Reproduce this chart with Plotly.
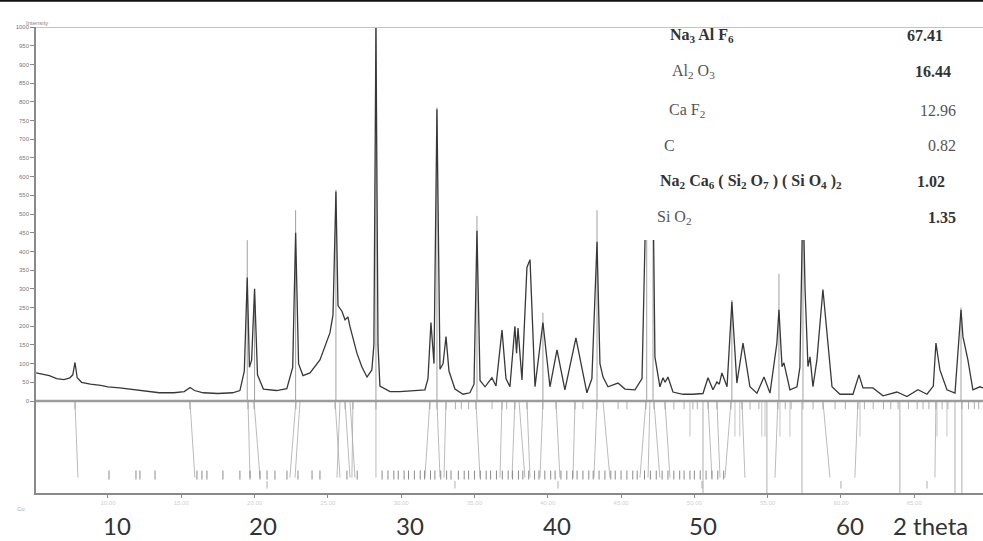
import plotly.graph_objects as go

# ---------------- data ----------------
two_theta = [5.1, 5.6, 6.0, 6.5, 7.0, 7.4, 7.6, 7.75, 7.9, 8.2, 8.8, 9.5, 10.0, 10.8, 11.5, 12.5, 13.5,
             14.5, 15.2, 15.6, 15.9, 16.5, 17.5, 18.5, 19.0, 19.3, 19.5, 19.65, 19.8, 20.0, 20.2, 20.6,
             21.5, 22.2, 22.6, 22.8, 23.0, 23.3, 23.78, 24.46, 25.14, 25.35, 25.55, 25.69, 25.96, 26.17,
             26.37, 26.5, 26.98, 27.33, 27.67, 28.0, 28.14, 28.28, 28.42, 28.55, 29.24, 29.92, 30.8,
             31.62, 31.83, 32.03, 32.24, 32.44, 32.65, 32.86, 33.06, 33.26, 33.67, 34.22, 34.69, 34.97,
             35.17, 35.38, 35.72, 36.19, 36.47, 36.88, 37.15, 37.42, 37.76, 37.87, 37.97, 38.24, 38.58,
             38.79, 39.13, 39.67, 40.15, 40.63, 41.17, 41.92, 42.67, 43.01, 43.36, 43.56, 43.77, 44.11,
             44.79, 45.27, 45.95, 46.43, 46.75, 46.95, 47.18, 47.31, 47.65, 47.86, 48.0, 48.2, 48.54,
             49.22, 49.9, 50.59, 50.93, 51.27, 51.54, 51.7, 51.88, 52.23, 52.56, 52.9, 53.32, 53.79,
             54.27, 54.75, 55.16, 55.63, 55.77, 55.98, 56.11, 56.52, 57.0, 57.2, 57.41, 57.55, 57.75,
             57.89, 58.09, 58.36, 58.77, 59.05, 59.39, 59.93, 60.82, 61.23, 61.5, 62.18, 62.87, 63.82,
             64.5, 65.25, 65.87, 66.3, 66.48, 66.75, 67.23, 67.78, 68.19, 68.32, 68.66, 69.0, 69.48, 69.69]
intensity = [75, 70, 68, 60, 57, 62, 70, 103, 62, 50, 45, 42, 38, 35, 32, 28, 22,
             22, 25, 36, 28, 22, 20, 22, 28, 80, 330, 90, 110, 300, 70, 32,
             28, 33, 90, 450, 100, 68, 75, 110, 182, 230, 560, 255, 240, 217,
             225, 200, 128, 90, 64, 83, 150, 1000, 150, 40, 25, 25, 27,
             30, 60, 210, 100, 780, 85, 100, 172, 80, 32, 18, 22, 45,
             455, 55, 38, 62, 40, 190, 60, 38, 200, 128, 195, 56, 357,
             378, 38, 210, 38, 137, 30, 169, 22, 60, 426, 100, 64, 38,
             48, 32, 30, 60, 640, 480, 580, 118, 38, 62, 50, 64, 24,
             18, 18, 20, 62, 30, 51, 45, 75, 38, 265, 48, 155, 38,
             21, 64, 21, 155, 244, 92, 102, 30, 38, 90, 560, 300, 92,
             118, 38, 110, 298, 182, 38, 18, 18, 70, 35, 35, 14, 24,
             12, 30, 18, 40, 155, 83, 30, 21, 244, 172, 110, 30, 38, 35]

# reference lines drawn above the pattern (position, height)
ref_pos = [19.5, 20.0, 22.8, 25.55, 28.28, 32.44, 35.17, 39.67, 43.36, 46.75, 47.18, 52.56, 55.77, 57.41, 68.19]
ref_height = [430, 300, 510, 565, 1000, 785, 495, 236, 510, 700, 700, 270, 340, 700, 250]

# stick pattern below zero: slanted connectors (top position -> bottom position)
conn_top = [7.75, 15.59, 19.55, 19.96, 22.82, 23.1, 25.49, 25.83, 26.17, 26.51, 26.71, 28.28, 31.96,
            32.44, 33.06, 35.1, 36.88, 37.76, 38.04, 38.58, 39.67, 40.56, 41.86, 43.36, 43.77, 46.7,
            46.97, 47.24, 47.99, 50.93, 51.54, 52.5, 53.25, 55.7, 58.77, 61.16, 66.48]
conn_bot = [7.95, 15.93, 19.69, 20.37, 22.41, 22.76, 25.83, 25.62, 26.51, 26.85, 26.64, 28.28, 31.62,
            32.65, 32.92, 35.38, 36.74, 37.56, 38.44, 38.79, 39.47, 40.83, 41.72, 43.15, 44.24, 46.29,
            46.84, 47.65, 48.34, 51.2, 51.75, 52.09, 53.45, 55.5, 59.25, 60.95, 66.41]
long_pos = [50.59, 54.95, 57.34, 64.02, 67.78, 68.25]
row_pos = [10.07, 11.91, 12.18, 13.21, 16.07, 16.41, 16.75, 17.84, 19.0, 19.69, 20.37, 20.85, 21.39,
           22.21, 22.96, 23.92, 24.46, 26.3, 27.0, 28.7, 29.1, 29.5, 29.8, 30.2, 30.5, 30.9, 31.3, 31.6,
           32.0, 32.3, 32.7, 33.1, 33.4, 33.9, 34.3, 34.6, 35.0, 35.4, 35.8, 36.1, 36.5, 36.9, 37.3,
           37.6, 38.0, 38.3, 38.7, 39.1, 39.4, 39.8, 40.2, 40.5, 40.9, 41.3, 41.7, 42.0, 42.4, 42.8,
           43.1, 43.5, 43.9, 44.3, 44.6, 45.0, 45.4, 45.8, 46.1, 46.6, 47.0, 47.4, 47.8, 48.2, 48.6,
           49.0, 49.3, 49.7, 50.0, 50.4, 50.8, 51.2, 51.6, 52.0]
short_pos = [7.75, 15.59, 19.55, 19.96, 22.82, 25.49, 26.17, 26.71, 28.28, 31.96, 32.44, 33.06, 33.7,
             34.1, 34.6, 35.1, 36.2, 36.88, 37.2, 37.76, 38.58, 39.67, 40.56, 41.86, 42.4, 43.36, 44.8,
             45.4, 46.7, 47.24, 48.0, 48.6, 49.3, 49.9, 50.2, 50.93, 51.54, 52.5, 53.25, 53.8, 54.4,
             55.7, 56.2, 56.6, 57.41, 58.1, 58.77, 59.6, 60.3, 61.16, 61.6, 62.2, 62.9, 63.4, 63.9,
             64.6, 65.2, 65.6, 66.0, 66.48, 66.9, 67.3, 68.25, 68.7, 69.1, 69.4]
mid_pos = [49.7, 52.77, 53.1, 54.6, 54.82, 55.84, 56.52, 61.3, 66.55, 67.23]
low_pos = [20.85, 33.67, 40.7, 50.52, 60.0, 65.87]

x_tick_vals = [10, 15, 20, 25, 30, 35, 40, 45, 50, 55, 60, 65]
big_labels = [10, 20, 30, 40, 50, 60]
y_tick_vals = list(range(0, 1001, 50))

table_names = ["Na<sub>3</sub> Al F<sub>6</sub>", "Al<sub>2</sub> O<sub>3</sub>", "Ca F<sub>2</sub>", "C",
               "Na<sub>2</sub> Ca<sub>6</sub> ( Si<sub>2</sub> O<sub>7</sub> ) ( Si O<sub>4</sub> )<sub>2</sub>",
               "Si O<sub>2</sub>"]
table_values = ["67.41", "16.44", "12.96", "0.82", "1.02", "1.35"]

# ---------------- geometry helpers ----------------
W, H = 983, 541
ML, MR, MT, MB = 36, 0, 27, 48
PW, PH = W - ML - MR, H - MT - MB


def px(x):
    return (x - ML) / PW


def py(y):
    return (H - MB - y) / PH


def segs(x0s, y0s, x1s, y1s):
    xs, ys = [], []
    for a, b, c, d in zip(x0s, y0s, x1s, y1s):
        xs += [a, c, None]
        ys += [b, d, None]
    return xs, ys


fig = go.Figure()

# below-zero stick pattern
sx, sy = segs(conn_top, [0] * len(conn_top), conn_bot, [-205] * len(conn_bot))
fig.add_trace(go.Scatter(x=sx, y=sy, mode="lines", line=dict(color="#a9a9a9", width=0.8),
                         hoverinfo="skip", showlegend=False))
sx, sy = segs(long_pos, [0] * len(long_pos), long_pos, [-246] * len(long_pos))
fig.add_trace(go.Scatter(x=sx, y=sy, mode="lines", line=dict(color="#9a9a9a", width=0.8),
                         hoverinfo="skip", showlegend=False))
sx, sy = segs(row_pos, [-186] * len(row_pos), row_pos, [-210] * len(row_pos))
fig.add_trace(go.Scatter(x=sx, y=sy, mode="lines", line=dict(color="#8a8a8a", width=1),
                         hoverinfo="skip", showlegend=False))
sx, sy = segs(short_pos, [0] * len(short_pos), short_pos, [-22] * len(short_pos))
fig.add_trace(go.Scatter(x=sx, y=sy, mode="lines", line=dict(color="#999999", width=0.8),
                         hoverinfo="skip", showlegend=False))
sx, sy = segs(mid_pos, [0] * len(mid_pos), mid_pos, [-95] * len(mid_pos))
fig.add_trace(go.Scatter(x=sx, y=sy, mode="lines", line=dict(color="#b5b5b5", width=0.8),
                         hoverinfo="skip", showlegend=False))
sx, sy = segs(low_pos, [-214] * len(low_pos), low_pos, [-234] * len(low_pos))
fig.add_trace(go.Scatter(x=sx, y=sy, mode="lines", line=dict(color="#9a9a9a", width=0.8),
                         hoverinfo="skip", showlegend=False))

# reference lines above zero
sx, sy = segs(ref_pos, [0] * len(ref_pos), ref_pos, ref_height)
fig.add_trace(go.Scatter(x=sx, y=sy, mode="lines", line=dict(color="#a0a0a0", width=1),
                         hoverinfo="skip", showlegend=False))

# measured pattern
fig.add_trace(go.Scatter(x=two_theta, y=intensity, mode="lines",
                         line=dict(color="#383838", width=1.3), showlegend=False))

shapes = [
    dict(type="line", xref="paper", yref="y", x0=0, x1=1, y0=0, y1=0,
         line=dict(color="#9c9c9c", width=2.5)),
    dict(type="line", xref="paper", yref="y", x0=0, x1=1, y0=1000, y1=1000,
         line=dict(color="#c4c4c4", width=2)),
    dict(type="rect", xref="paper", yref="paper", x0=px(600), x1=1.0, y0=py(240), y1=py(29),
         fillcolor="white", line=dict(width=0), layer="above"),
    dict(type="line", xref="paper", yref="paper", x0=-ML / PW, x1=1.0, y0=py(0.8), y1=py(0.8),
         line=dict(color="#111111", width=2)),
]

annotations = []
for v in big_labels:
    annotations.append(dict(x=v + 0.6, y=py(525), xref="x", yref="paper", text=str(v),
                            showarrow=False, xanchor="center", yanchor="middle",
                            font=dict(family="Lato", size=24, color="#333333")))
annotations.append(dict(x=66.1, y=py(525), xref="x", yref="paper", text="2 theta",
                        showarrow=False, xanchor="center", yanchor="middle",
                        font=dict(family="Lato", size=24, color="#333333")))
annotations.append(dict(x=px(24), y=py(18), xref="paper", yref="paper", text="Intensity",
                        showarrow=False, font=dict(family="Liberation Sans", size=6, color="#888888")))
annotations.append(dict(x=px(15), y=py(514), xref="paper", yref="paper", text="Cu",
                        showarrow=False, font=dict(family="Liberation Sans", size=6, color="#aaaaaa")))

name_left = [668, 670, 667, 662, 658, 655]
val_right = [945, 953, 958, 958, 947, 958]
row_y = [35, 72, 110, 145, 182, 217]
name_bold = [True, False, False, False, True, False]
val_bold = [True, True, False, False, True, True]
for i in range(len(table_names)):
    nm = f"<b>{table_names[i]}</b>" if name_bold[i] else table_names[i]
    vl = f"<b>{table_values[i]}</b>" if val_bold[i] else table_values[i]
    annotations.append(dict(x=px(name_left[i]), y=py(row_y[i]), xref="paper", yref="paper", text=nm,
                            showarrow=False, xanchor="left", yanchor="middle",
                            font=dict(family="Liberation Serif", size=16,
                                      color="#333333" if name_bold[i] else "#555555")))
    annotations.append(dict(x=px(val_right[i]), y=py(row_y[i]), xref="paper", yref="paper", text=vl,
                            showarrow=False, xanchor="right", yanchor="middle",
                            font=dict(family="Liberation Serif", size=16,
                                      color="#333333" if val_bold[i] else "#555555")))

fig.update_layout(
    width=W, height=H,
    margin=dict(l=ML, r=MR, t=MT, b=MB),
    paper_bgcolor="white", plot_bgcolor="white",
    shapes=shapes, annotations=annotations,
    xaxis=dict(range=[5.09, 69.69], showgrid=False, zeroline=False, showline=True,
               linecolor="#8a8a8a", linewidth=1.5, ticks="outside", ticklen=3, tickcolor="#8a8a8a",
               tickvals=x_tick_vals, ticktext=[f"{v:.2f}" for v in x_tick_vals],
               tickfont=dict(family="Liberation Sans", size=6, color="#cfcfcf")),
    yaxis=dict(range=[-246, 1000], showgrid=False, zeroline=False, showline=True,
               linecolor="#8a8a8a", linewidth=1.5, ticks="outside", ticklen=4, tickcolor="#8a8a8a",
               tickvals=y_tick_vals, ticktext=[str(v) for v in y_tick_vals],
               tickfont=dict(family="Liberation Sans", size=6, color="#777777")),
)

fig.write_html("out.html", config={"displayModeBar": False},
               post_script="document.body.style.margin='0px';"
                           "document.documentElement.style.overflow='hidden';")
